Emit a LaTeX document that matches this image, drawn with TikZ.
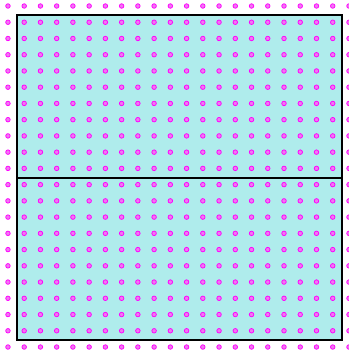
\documentclass[tikz,border=0pt]{standalone}
\definecolor{boxfill}{RGB}{175,236,236}
\definecolor{dotring}{RGB}{255,0,255}
\definecolor{dotfill}{RGB}{240,120,240}
\tikzset{
  gdot/.style={fill=dotfill,draw=dotring,line width=1.3pt},
  boxline/.style={draw=black,line width=4pt}
}
\begin{document}
\begin{tikzpicture}[x=1cm,y=-1cm]
\useasboundingbox (-0.49,-0.37) rectangle (21.0,21.43);
\fill[boxfill] (0.5,0.5) rectangle (20.5,20.5);
\foreach \i in {0,...,21}{
  \foreach \j in {0,...,21}{
    \path[gdot] (\i,\j) circle (0.14);
  }
}
\node[boxline,minimum width=20cm,minimum height=10cm,inner sep=0pt,anchor=north west] (top) at (0.5,0.5) {};
\node[boxline,minimum width=20cm,minimum height=10cm,inner sep=0pt,anchor=north west] (bot) at (0.5,10.5) {};
\end{tikzpicture}
\end{document}
